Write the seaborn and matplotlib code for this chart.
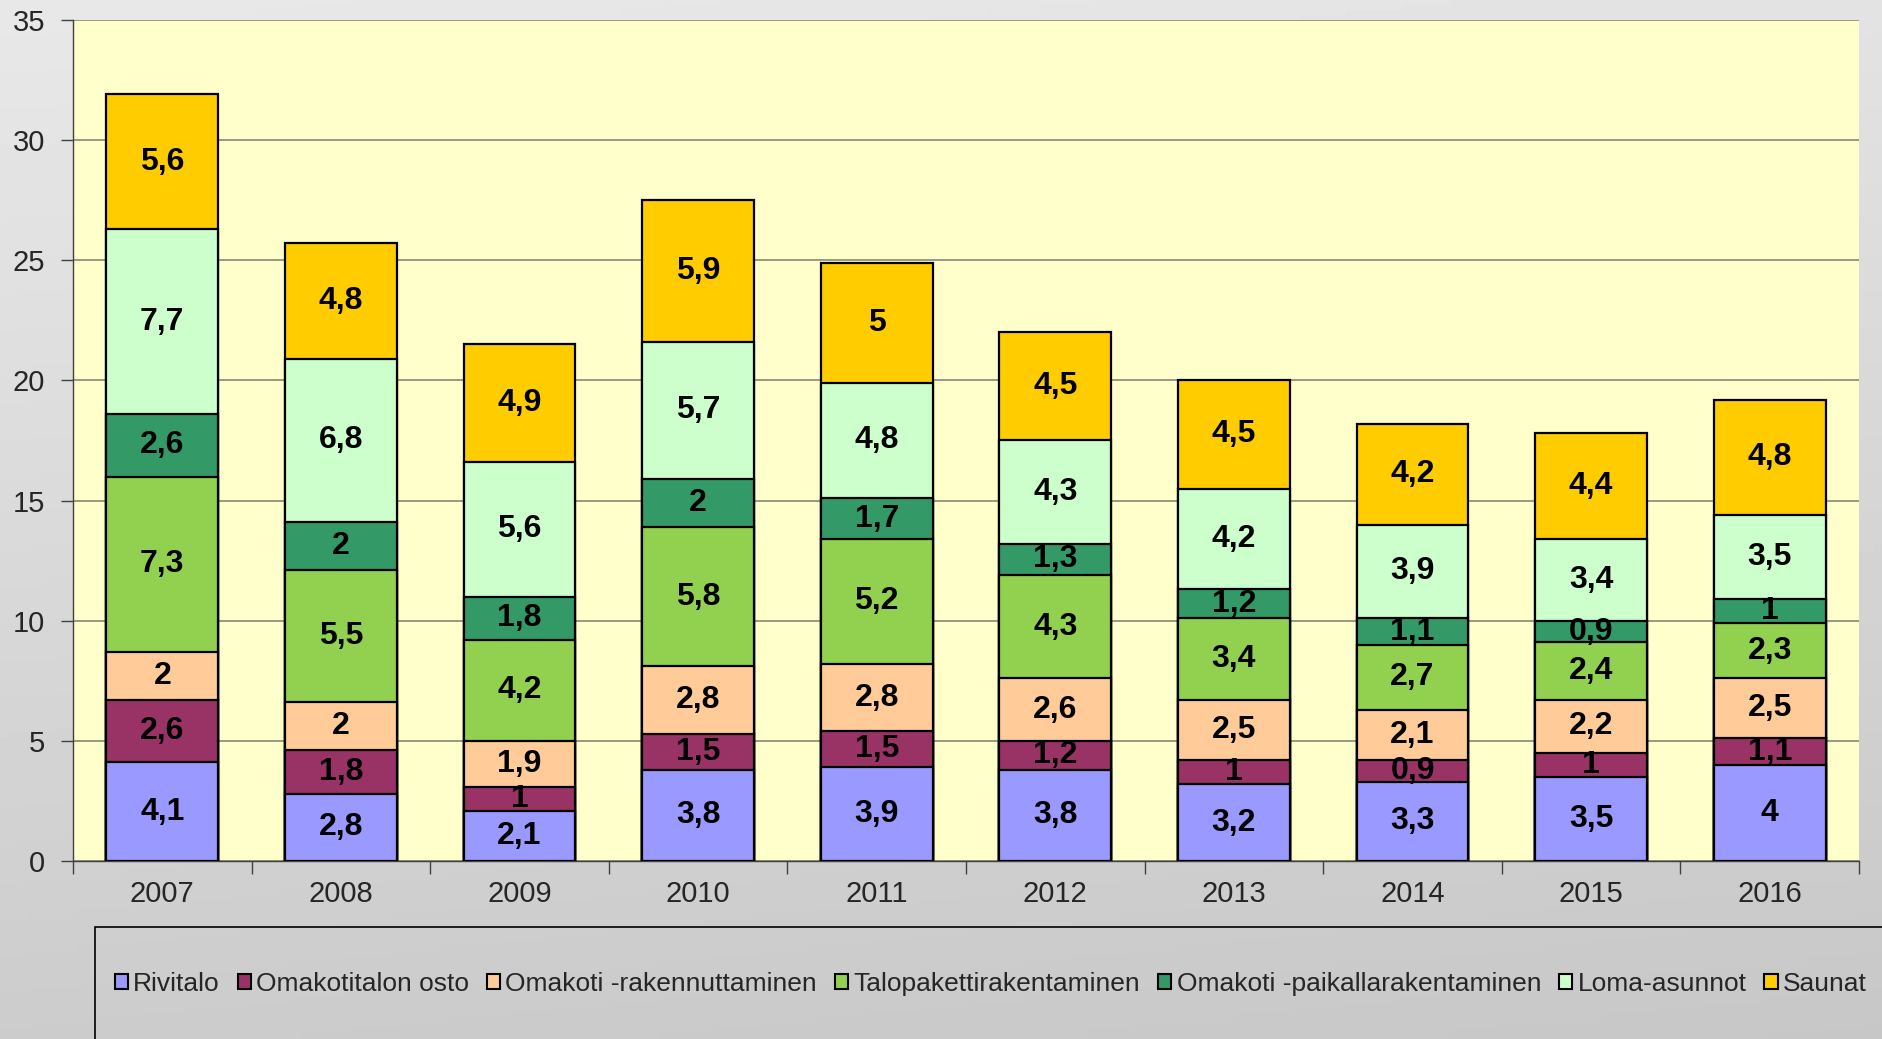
import numpy as np
import pandas as pd
import matplotlib
matplotlib.use("Agg")
import matplotlib.pyplot as plt
from matplotlib.patches import Patch, Rectangle
import seaborn as sns

years = ["2007", "2008", "2009", "2010", "2011", "2012", "2013", "2014", "2015", "2016"]
series = ["Rivitalo", "Omakotitalon osto", "Omakoti -rakennuttaminen",
          "Talopakettirakentaminen", "Omakoti -paikallarakentaminen",
          "Loma-asunnot", "Saunat"]
rivitalo = [4.1, 2.8, 2.1, 3.8, 3.9, 3.8, 3.2, 3.3, 3.5, 4]
omakotitalon_osto = [2.6, 1.8, 1, 1.5, 1.5, 1.2, 1, 0.9, 1, 1.1]
rakennuttaminen = [2, 2, 1.9, 2.8, 2.8, 2.6, 2.5, 2.1, 2.2, 2.5]
talopaketti = [7.3, 5.5, 4.2, 5.8, 5.2, 4.3, 3.4, 2.7, 2.4, 2.3]
paikallarakentaminen = [2.6, 2, 1.8, 2, 1.7, 1.3, 1.2, 1.1, 0.9, 1]
loma_asunnot = [7.7, 6.8, 5.6, 5.7, 4.8, 4.3, 4.2, 3.9, 3.4, 3.5]
saunat = [5.6, 4.8, 4.9, 5.9, 5, 4.5, 4.5, 4.2, 4.4, 4.8]

colors = ["#9999FF", "#993366", "#FFCC99", "#92D050", "#339966", "#CCFFCC", "#FFCC00"]

values = [rivitalo, omakotitalon_osto, rakennuttaminen, talopaketti,
          paikallarakentaminen, loma_asunnot, saunat]
df = pd.DataFrame(dict(zip(series, values)), index=years)
cum = df.cumsum(axis=1)

sns.set_theme(style="white")
plt.rcParams["font.family"] = ["Liberation Sans", "DejaVu Sans"]

fig = plt.figure(figsize=(18.83, 10.39), dpi=100)

# grey gradient background
bg = fig.add_axes([0, 0, 1, 1], zorder=-10)
gy, gx = np.mgrid[0:1:200j, 0:1:200j]
grad = 0.91 - 0.11 * gy - 0.02 * gx
bg.imshow(grad, cmap="gray", vmin=0, vmax=1, aspect="auto", extent=[0, 1, 0, 1])
bg.axis("off")

ax = fig.add_axes([73 / 1883, 1 - 861 / 1039, (1859 - 73) / 1883, (861 - 20) / 1039])
ax.set_facecolor("#FFFFCC")

# stacked bars: draw cumulative totals from the top series down
for name, col in zip(series[::-1], colors[::-1]):
    plot_df = pd.DataFrame({"year": years, "total": cum[name].values})
    sns.barplot(data=plot_df, x="year", y="total", order=years, color=col,
                saturation=1, width=0.625, edgecolor="black", linewidth=1.6,
                ax=ax, zorder=3)

# value labels in the middle of each segment
for name in series:
    for i, y in enumerate(years):
        v = df.loc[y, name]
        mid = cum.loc[y, name] - v / 2
        txt = f"{v:g}".replace(".", ",")
        ax.text(i, mid, txt, ha="center", va="center", fontsize=23,
                fontweight="bold", color="black", zorder=5)

ax.set_ylim(0, 35)
ax.set_xlim(-0.5, len(years) - 0.5)
ax.set_yticks(np.arange(0, 36, 5))
ax.yaxis.grid(True, color="#7f7f6f", linewidth=1.1, zorder=0)
ax.set_axisbelow(True)
ax.set_xlabel("")
ax.set_ylabel("")

for s in ["top", "right"]:
    ax.spines[s].set_visible(False)
for s in ["left", "bottom"]:
    ax.spines[s].set_color("#404040")
    ax.spines[s].set_linewidth(1.0)

ax.tick_params(axis="y", left=True, length=9, width=1, color="#404040",
               labelsize=21, pad=11)
ax.tick_params(axis="x", which="major", length=0, labelsize=21, pad=14)
ax.set_xticks(np.arange(-0.5, len(years), 1), minor=True)
ax.tick_params(axis="x", which="minor", bottom=True, length=9, width=1, color="#404040")

# legend box running off the figure edge
fig.patches.append(Rectangle((95 / 1883, -0.05), 1.1, 1 - 927 / 1039 + 0.05,
                             transform=fig.transFigure, fill=False,
                             edgecolor="black", linewidth=1.2, zorder=1))
handles = [Patch(facecolor=c, edgecolor="black", linewidth=1.5) for c in colors]
fig.legend(handles, series, loc="center left",
           bbox_to_anchor=(104 / 1883, 1 - 984 / 1039), ncol=7, frameon=False,
           fontsize=19, handlelength=0.5, handleheight=0.5, handletextpad=0.2,
           columnspacing=0.68, borderaxespad=0)

fig.savefig("out.png", dpi=100)
